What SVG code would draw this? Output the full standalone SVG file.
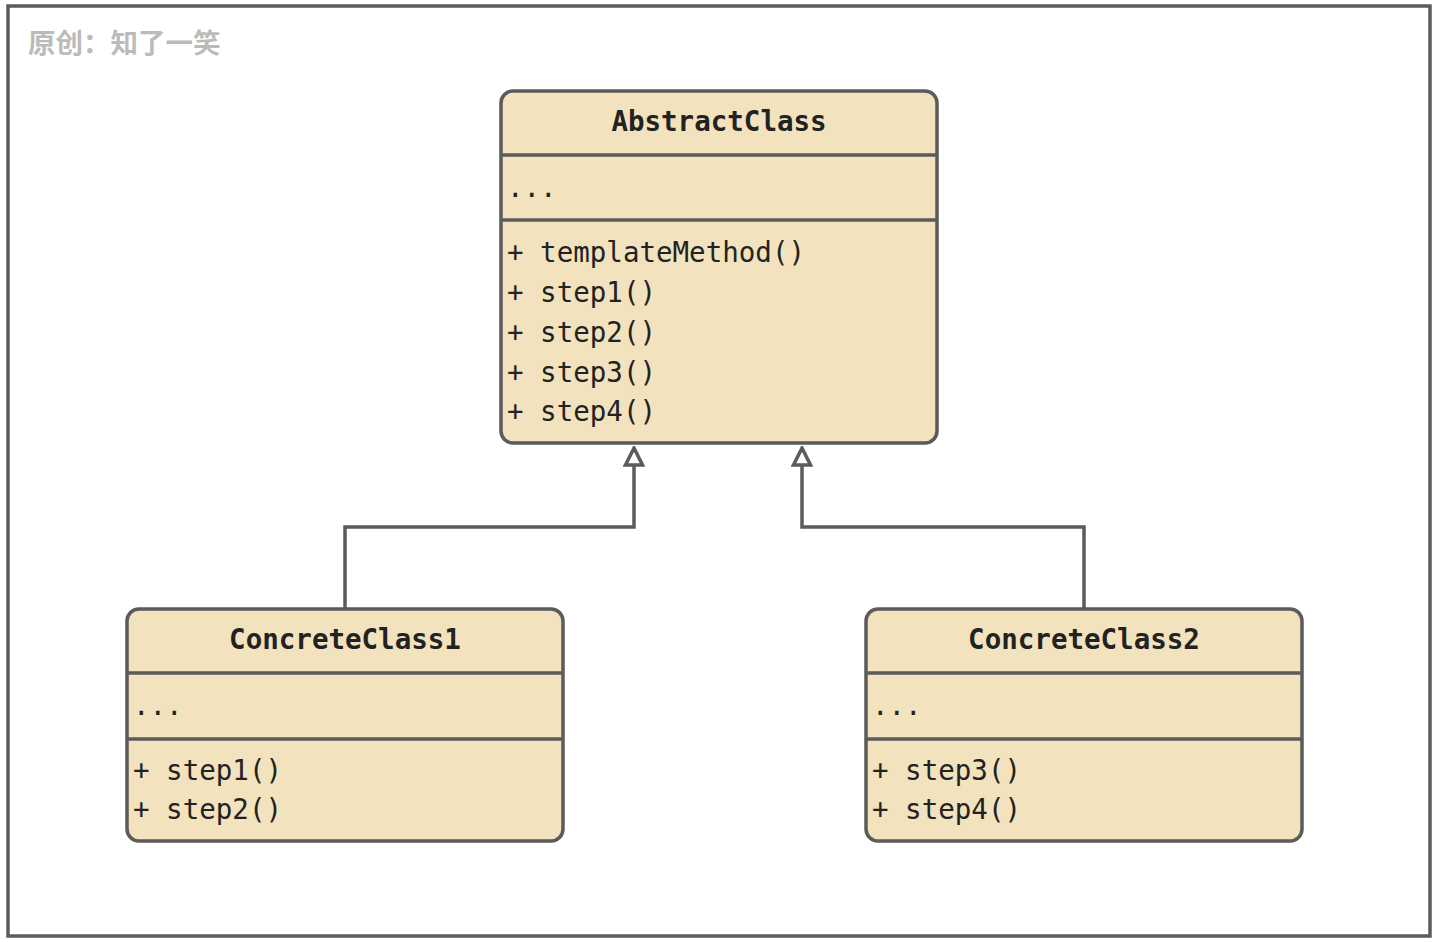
<svg xmlns="http://www.w3.org/2000/svg" width="1442" height="942" viewBox="0 0 1442 942">
<defs>
<style>
.box{fill:#f2e2bd;stroke:#5b5b5b;stroke-width:3.5}
.div{stroke:#5b5b5b;stroke-width:3.5}
.t{font-family:"DejaVu Sans Mono","Liberation Mono",monospace;font-size:27.5px;fill:#222}
.h{font-weight:bold;text-anchor:middle}
.conn{fill:none;stroke:#5b5b5b;stroke-width:3.5}
</style>
<marker id="tri" viewBox="0 0 22 22" refX="20" refY="11" markerWidth="22" markerHeight="22" markerUnits="userSpaceOnUse" orient="auto">
<path d="M20 11 L3 2.5 L3 19.5 Z" fill="#fff" stroke="#5b5b5b" stroke-width="3.5" stroke-linejoin="miter"/>
</marker>
</defs>
<rect x="0" y="0" width="1442" height="942" fill="#fff"/>
<rect x="8" y="6" width="1422" height="930" fill="#fff" stroke="#5b5b5b" stroke-width="3.5"/>
<text x="28" y="53" font-family="Noto Sans CJK SC, sans-serif" font-size="27.5" font-weight="bold" fill="#bbbbbb">原创：知了一笑</text>
<g id="connectors">
<path class="conn" d="M345 609 V527 H634 V448" marker-end="url(#tri)"/>
<path class="conn" d="M1084 609 V527 H802 V448" marker-end="url(#tri)"/>
</g>
<g id="AbstractClass">
<rect class="box" x="501" y="91" width="436" height="352" rx="12"/>
<line class="div" x1="501" y1="155" x2="937" y2="155"/>
<line class="div" x1="501" y1="220" x2="937" y2="220"/>
<text class="t h" x="719" y="131">AbstractClass</text>
<text class="t" x="507" y="197">...</text>
<text class="t" x="507" y="262">+ templateMethod()</text>
<text class="t" x="507" y="302">+ step1()</text>
<text class="t" x="507" y="342">+ step2()</text>
<text class="t" x="507" y="382">+ step3()</text>
<text class="t" x="507" y="421">+ step4()</text>
</g>
<g id="ConcreteClass1">
<rect class="box" x="127" y="609" width="436" height="232" rx="12"/>
<line class="div" x1="127" y1="673" x2="563" y2="673"/>
<line class="div" x1="127" y1="739" x2="563" y2="739"/>
<text class="t h" x="345" y="649">ConcreteClass1</text>
<text class="t" x="133" y="715">...</text>
<text class="t" x="133" y="780">+ step1()</text>
<text class="t" x="133" y="819">+ step2()</text>
</g>
<g id="ConcreteClass2">
<rect class="box" x="866" y="609" width="436" height="232" rx="12"/>
<line class="div" x1="866" y1="673" x2="1302" y2="673"/>
<line class="div" x1="866" y1="739" x2="1302" y2="739"/>
<text class="t h" x="1084" y="649">ConcreteClass2</text>
<text class="t" x="872" y="715">...</text>
<text class="t" x="872" y="780">+ step3()</text>
<text class="t" x="872" y="819">+ step4()</text>
</g>
</svg>
